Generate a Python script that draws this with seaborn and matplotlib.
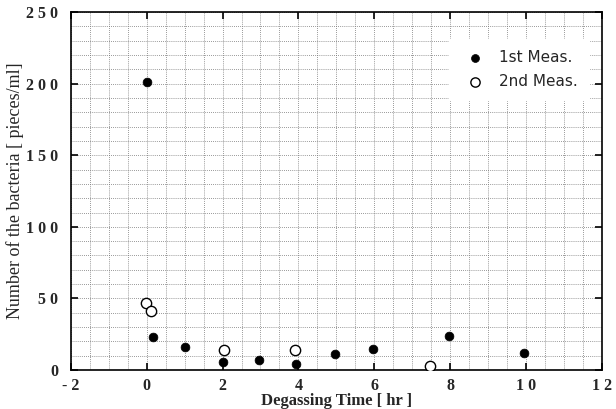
import pandas as pd
import matplotlib.pyplot as plt
import seaborn as sns
import numpy as np

# Bacteria count vs degassing time
time_1st = [0.0, 0.17, 1.0, 2.0, 2.95, 3.93, 4.96, 5.96, 7.96, 9.96]
count_1st = [201, 23, 16, 6, 7, 4, 11, 15, 24, 12]
time_2nd = [-0.03, 0.12, 2.03, 3.91, 7.46]
count_2nd = [47, 41, 14, 14, 3]

x_ticks = [-2, 0, 2, 4, 6, 8, 10, 12]
x_tick_labels = ['- 2', '0', '2', '4', '6', '8', '1 0', '1 2']
y_ticks = [0, 50, 100, 150, 200, 250]
y_tick_labels = ['0', '5 0', '1 0 0', '1 5 0', '2 0 0', '2 5 0']

df1 = pd.DataFrame({'time': time_1st, 'count': count_1st})
df2 = pd.DataFrame({'time': time_2nd, 'count': count_2nd})

sns.set_style("white")
plt.rcParams['font.family'] = ['Liberation Serif', 'DejaVu Serif']

fig = plt.figure(figsize=(6.16, 4.09), dpi=100)
ax = fig.add_axes([0.115, 0.095, 0.862, 0.876])

sns.scatterplot(data=df1, x='time', y='count', ax=ax, color='black',
                edgecolor='black', s=40, label='1st Meas.', zorder=3)
sns.scatterplot(data=df2, x='time', y='count', ax=ax, facecolor='white',
                edgecolor='black', linewidth=1.0, s=55, label='2nd Meas.', zorder=3)

ax.set_xlim(-2, 12)
ax.set_ylim(0, 250)
ax.set_xticks(x_ticks)
ax.set_xticklabels(x_tick_labels, fontsize=11.5, fontweight='bold')
ax.set_yticks(y_ticks)
ax.set_yticklabels(y_tick_labels, fontsize=11.5, fontweight='bold')
ax.set_xticks(np.arange(-2, 12.01, 0.5), minor=True)
ax.set_yticks(np.arange(0, 250.1, 10), minor=True)

ax.grid(which='both', color='#777777', linestyle=(0, (1, 1.5)), linewidth=0.6)
ax.set_axisbelow(True)
ax.tick_params(which='major', direction='in', length=5, width=1.2, top=True, right=True,
               bottom=True, left=True, color='black')
ax.tick_params(axis='y', which='major', pad=9)
ax.tick_params(axis='x', which='major', pad=6)
ax.tick_params(which='minor', length=0)
for sp in ax.spines.values():
    sp.set_color('black')
    sp.set_linewidth(1.2)

ax.set_xlabel('Degassing Time [ hr ]', fontsize=12, fontweight='bold')
ax.xaxis.set_label_coords(0.5, -0.065)
ax.set_ylabel('Number of the bacteria [ pieces/ml]', fontsize=13)
ax.yaxis.set_label_coords(-0.088, 0.5)

leg = ax.legend(loc='upper right', bbox_to_anchor=(0.99, 0.945), frameon=True,
                fancybox=False, edgecolor='white', framealpha=1.0,
                prop={'family': 'DejaVu Sans', 'size': 11}, handletextpad=0.6,
                borderpad=0.7, labelspacing=0.6, markerscale=0.9)

fig.savefig('out.png', dpi=100)
